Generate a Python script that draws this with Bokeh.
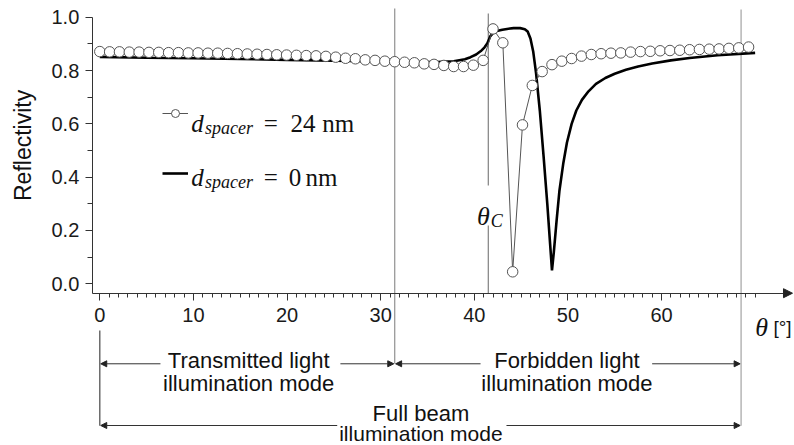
from bokeh.plotting import figure
from bokeh.models import (Range1d, LinearAxis, FixedTicker, Label, Arrow, NormalHead,
                          BoxAnnotation, Legend, LegendItem, ColumnDataSource,
                          PrintfTickFormatter)
from bokeh.embed import file_html
from bokeh.resources import INLINE

# ---- data -------------------------------------------------------------
theta_24 = [0.00, 1.05, 2.10, 3.15, 4.20, 5.25, 6.30, 7.35, 8.40, 9.45, 10.50, 11.55,
            12.60, 13.65, 14.70, 15.75, 16.80, 17.85, 18.90, 19.95, 21.00, 22.05, 23.10,
            24.15, 25.20, 26.25, 27.30, 28.35, 29.40, 30.45, 31.50, 32.55, 33.60, 34.65,
            35.70, 36.75, 37.80, 38.85, 39.90, 40.95, 42.00, 43.05, 44.10, 45.15, 46.20,
            47.25, 48.30, 49.35, 50.40, 51.45, 52.50, 53.55, 54.60, 55.65, 56.70, 57.75,
            58.80, 59.85, 60.90, 61.95, 63.00, 64.05, 65.10, 66.15, 67.20, 68.25, 69.30]
refl_24 = [0.871, 0.870, 0.870, 0.869, 0.869, 0.868, 0.868, 0.867, 0.867, 0.866, 0.866,
           0.865, 0.865, 0.864, 0.863, 0.862, 0.861, 0.860, 0.859, 0.858, 0.857, 0.856,
           0.855, 0.853, 0.850, 0.846, 0.844, 0.840, 0.838, 0.835, 0.833, 0.831, 0.829,
           0.825, 0.823, 0.819, 0.815, 0.815, 0.820, 0.838, 0.956, 0.904, 0.045, 0.596,
           0.744, 0.796, 0.822, 0.835, 0.845, 0.854, 0.860, 0.863, 0.865, 0.866, 0.869,
           0.871, 0.872, 0.874, 0.875, 0.876, 0.878, 0.879, 0.880, 0.881, 0.883, 0.885,
           0.888]

theta_0 = [0, 5, 10, 15, 20, 25, 30, 33, 36, 37.8, 39, 39.6, 40.2, 40.7, 41.1, 41.4,
           41.7, 42.0, 42.4, 43.0, 43.5, 44.2, 44.9, 45.4, 45.7, 46.0, 46.3, 46.6, 47.0,
           47.4, 47.8, 48.1, 48.3, 48.5, 48.8, 49.1, 49.5, 49.9, 50.4, 50.9, 51.5, 52.2,
           53.0, 54.0, 55.0, 56.2, 57.5, 59.0, 61.0, 63.0, 66.0, 70.0]
refl_0 = [0.851, 0.848, 0.846, 0.843, 0.840, 0.837, 0.834, 0.832, 0.832, 0.835, 0.842,
          0.850, 0.860, 0.873, 0.887, 0.902, 0.928, 0.940, 0.948, 0.953, 0.956, 0.959,
          0.959, 0.955, 0.946, 0.920, 0.870, 0.790, 0.650, 0.480, 0.300, 0.150, 0.050,
          0.120, 0.240, 0.350, 0.450, 0.530, 0.600, 0.650, 0.690, 0.722, 0.750, 0.772,
          0.788, 0.803, 0.815, 0.826, 0.838, 0.847, 0.857, 0.866]

x_major_ticks = [0, 10, 20, 30, 40, 50, 60]
x_minor_ticks = list(range(0, 71))
y_major_ticks = [0.0, 0.2, 0.4, 0.6, 0.8, 1.0]
y_minor_ticks = [0.1, 0.3, 0.5, 0.7, 0.9]

# mode boundaries (angle, top, bottom)
bound_x = [0.0, 31.5, 41.5, 68.5]
bound_top = [-0.175, 1.033, 1.014, 1.029]
bound_bot = [-0.532, -0.300, -0.035, -0.532]
bound_col = ["#555555", "#999999", "#8a8a8a", "#aaaaaa"]

X0, X1 = -10.607, 74.205
Y0, Y1 = -0.6065, 1.0626
AXY = -0.0353   # where the x axis sits
AXX = -0.8      # where the y axis sits

p = figure(width=794, height=445, x_range=Range1d(X0, X1), y_range=Range1d(Y0, Y1),
           output_backend="svg", toolbar_location=None, x_axis_location=None,
           y_axis_location=None, min_border=0, outline_line_color=None,
           background_fill_color="white", border_fill_color="white")
p.grid.visible = False

# axes
xa = LinearAxis(fixed_location=AXY, bounds=(AXX, 73.5),
                ticker=FixedTicker(ticks=x_major_ticks, minor_ticks=x_minor_ticks))
xa.major_tick_in = 0
xa.major_tick_out = 7
xa.minor_tick_in = 0
xa.minor_tick_out = 4
xa.axis_line_color = "#333333"
xa.major_tick_line_color = "#333333"
xa.minor_tick_line_color = "#333333"
xa.major_label_text_font = "Liberation Sans"
xa.major_label_text_font_size = "20px"
xa.major_label_text_color = "#1a1a1a"
xa.major_label_standoff = 8
p.add_layout(xa, "below")

ya = LinearAxis(fixed_location=AXX, bounds=(AXY, 1.0),
                ticker=FixedTicker(ticks=y_major_ticks, minor_ticks=y_minor_ticks),
                formatter=PrintfTickFormatter(format="%.1f"))
ya.major_tick_in = 0
ya.major_tick_out = 7
ya.minor_tick_in = 0
ya.minor_tick_out = 5
ya.axis_line_color = "#333333"
ya.major_tick_line_color = "#333333"
ya.minor_tick_line_color = "#333333"
ya.major_label_text_font = "Liberation Sans"
ya.major_label_text_font_size = "20px"
ya.major_label_text_color = "#1a1a1a"
ya.major_label_standoff = 6
p.add_layout(ya, "left")

p.add_layout(Arrow(end=NormalHead(size=9, fill_color="#222222", line_color="#222222"),
                   x_start=73.0, y_start=AXY, x_end=73.99, y_end=AXY,
                   line_color="#333333", line_width=1))

# boundary lines
bsrc = ColumnDataSource(dict(x=bound_x, top=bound_top, bot=bound_bot, c=bound_col))
p.segment(x0="x", y0="bot", x1="x", y1="top", source=bsrc, line_color="c", line_width=1.3)

# data
thick = p.line(theta_0, refl_0, line_color="black", line_width=2.6)
thin = p.line(theta_24, refl_24, line_color="#555555", line_width=1)
circ = p.scatter(theta_24, refl_24, marker="circle", size=10.5, fill_color="white",
                 line_color="#555555", line_width=1)

# legend using the real renderers
leg = Legend(items=[LegendItem(label=" ", renderers=[thin, circ]),
                    LegendItem(label=" ", renderers=[thick])],
             location=(162, 262), glyph_width=26, glyph_height=20, spacing=40,
             padding=0, margin=0, label_width=1, label_standoff=0,
             background_fill_alpha=0, border_line_color=None,
             label_text_font_size="10px")
p.add_layout(leg, "center")

SERIF = "Liberation Serif"
SANS = "Liberation Sans"

def lab(x, y, t, font=SERIF, size="25px", style="normal", align="left", **kw):
    p.add_layout(Label(x=x, y=y, text=t, text_font=font, text_font_size=size,
                       text_font_style=style, text_align=align,
                       text_baseline="alphabetic", text_color="#111111", **kw))

# legend texts
for base, sub, val, vx, nx in [(0.600, 0.583, "24", 20.37, 23.76),
                               (0.400, 0.382, "0", 20.19, 21.98)]:
    lab(9.76, base, "d", style="italic")
    lab(11.24, sub, "spacer", size="18px", style="italic")
    lab(17.52, base, "=")
    lab(vx, base, val)
    lab(nx, base, "nm")

# theta_C with white background
p.add_layout(BoxAnnotation(left=41.2, right=41.8, bottom=0.219, top=0.369,
                           fill_color="white", fill_alpha=1, line_color=None))
lab(40.3, 0.252, "θ", size="26px", style="italic")
lab(41.75, 0.235, "C", size="18px", style="italic")

# axis titles
p.add_layout(Label(x=-8.2, y=0.519, text="Reflectivity", text_font=SANS,
                   text_font_size="23px", angle=90, angle_units="deg",
                   text_align="center", text_baseline="middle", text_color="#111111"))
lab(70.0, -0.163, "θ", size="26px", style="italic")
lab(71.96, -0.163, "[°]", font=SANS, size="19px")

# mode annotations
lab(15.9, -0.288, "Transmitted light", font=SANS, size="22px", align="center")
lab(15.9, -0.375, "illumination mode", font=SANS, size="22px", align="center")
lab(49.9, -0.288, "Forbidden light", font=SANS, size="22px", align="center")
lab(49.9, -0.375, "illumination mode", font=SANS, size="22px", align="center")
lab(34.3, -0.488, "Full beam", font=SANS, size="22px", align="center")
lab(34.3, -0.561, "illumination mode", font=SANS, size="21px", align="center")

ROW1, ROW2 = -0.300, -0.5315
for xs, xe, yy in [(6.48, 0.1, ROW1), (25.7, 31.4, ROW1), (40.67, 31.6, ROW1),
                   (59.0, 68.4, ROW1), (25.36, 0.1, ROW2), (43.44, 68.4, ROW2)]:
    p.add_layout(Arrow(end=NormalHead(size=6, fill_color="#222222", line_color="#222222"),
                       x_start=xs, y_start=yy, x_end=xe, y_end=yy,
                       line_color="#333333", line_width=1))

open("out.html", "w").write(file_html(p, INLINE))
